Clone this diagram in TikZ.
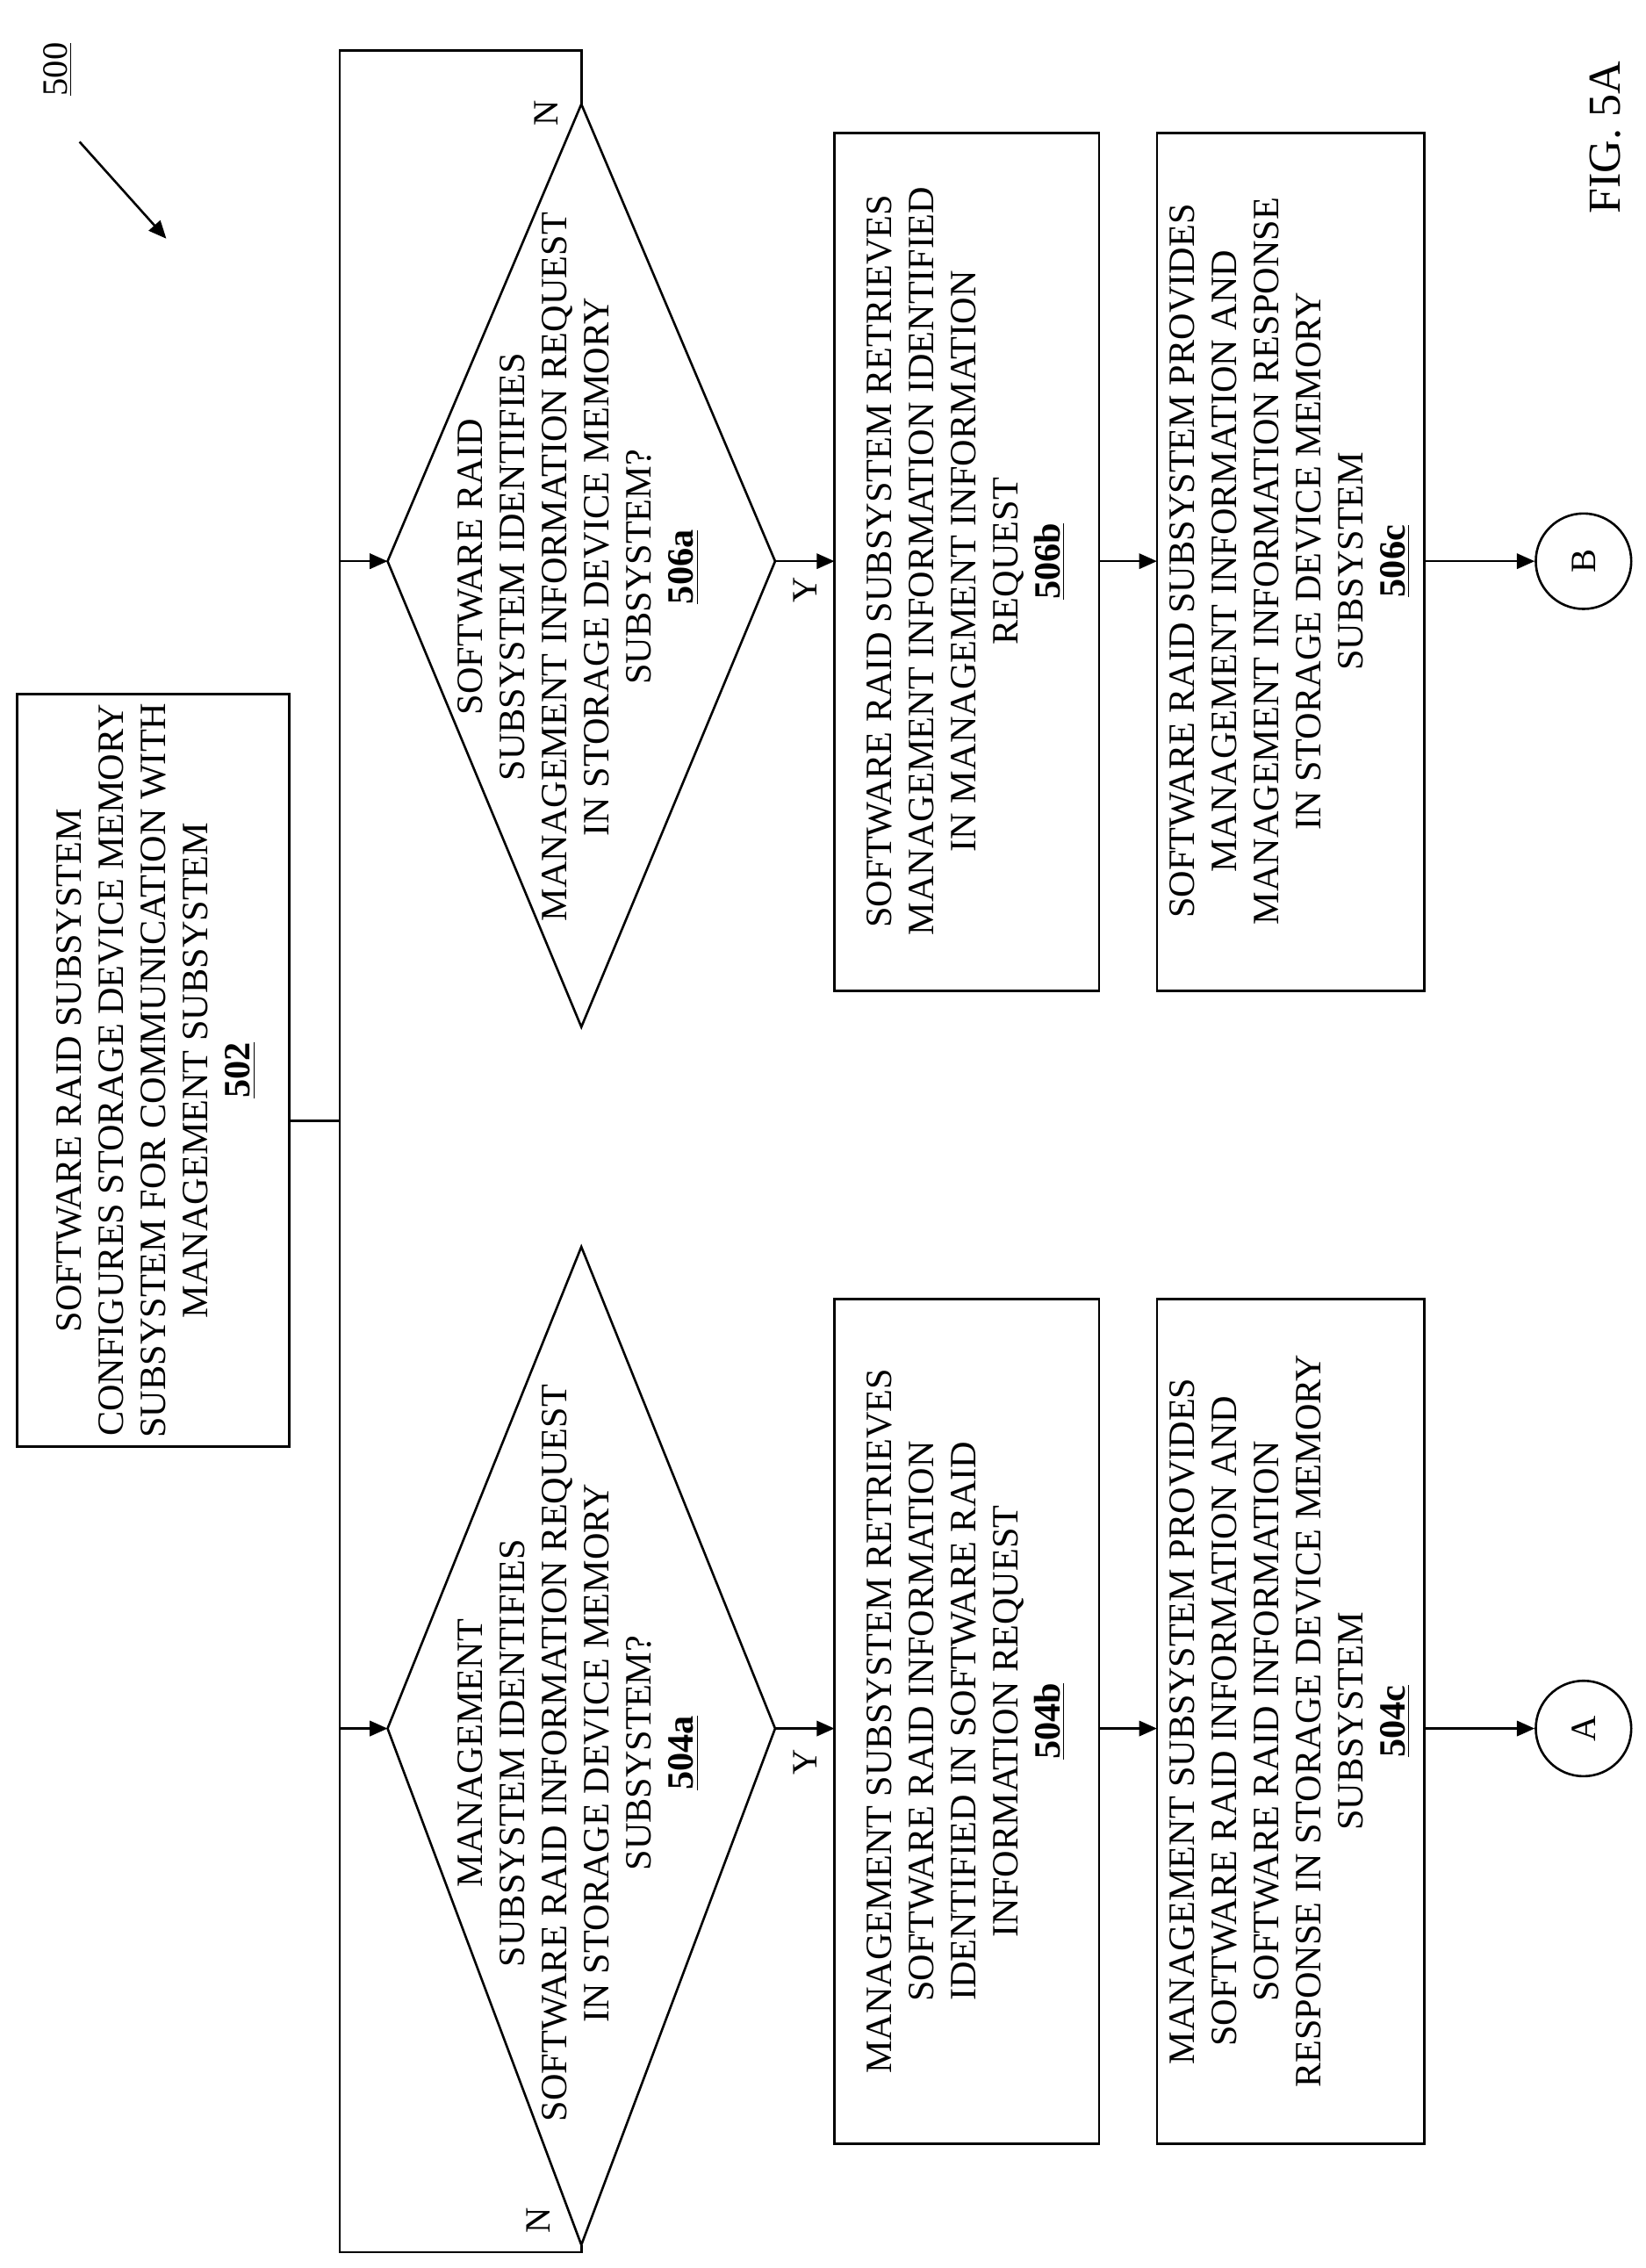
\documentclass[tikz,border=0pt]{standalone}
\usepackage{fontspec}
\setmainfont{Liberation Serif}
\usetikzlibrary{arrows.meta}
\begin{document}
\begin{tikzpicture}[x=0.02cm,y=-0.02cm,line width=0.9pt,
  txt/.style={rotate=90,align=center,font=\fontsize{14.6}{16.6}\selectfont,inner sep=0},
  lab/.style={rotate=90,font=\fontsize{14}{15}\selectfont,inner sep=1pt},
  arr/.style={-{Triangle[length=7pt,width=6pt]}},
  box/.style={draw}]
\useasboundingbox (0,0) rectangle (1138,1568);
% box 502
\draw[box] (12,480) rectangle (200,1000);
\node[txt] (t502) at (108,740) {SOFTWARE RAID SUBSYSTEM\\CONFIGURES STORAGE DEVICE MEMORY\\SUBSYSTEM FOR COMMUNICATION WITH\\MANAGEMENT SUBSYSTEM\\\underline{\textbf{502}}};
\coordinate (b502r) at (200,775);
\coordinate (bus) at (235,775);
\coordinate (bustop) at (235,35);
\coordinate (busbot) at (235,1557);
% diamonds
\coordinate (a-t) at (402,862); \coordinate (a-b) at (402,1552);
\coordinate (a-l) at (268,1195); \coordinate (a-r) at (536,1195);
\coordinate (c-t) at (402,72); \coordinate (c-b) at (402,710);
\coordinate (c-l) at (268,388); \coordinate (c-r) at (536,388);
\draw (a-t)--(a-r)--(a-b)--(a-l)--cycle;
\draw (c-t)--(c-r)--(c-b)--(c-l)--cycle;
\node[txt] (t504a) at (400,1212) {MANAGEMENT\\SUBSYSTEM IDENTIFIES\\SOFTWARE RAID INFORMATION REQUEST\\IN STORAGE DEVICE MEMORY\\SUBSYSTEM?\\\underline{\textbf{504a}}};
\node[txt] (t506a) at (400,392) {SOFTWARE RAID\\SUBSYSTEM IDENTIFIES\\MANAGEMENT INFORMATION REQUEST\\IN STORAGE DEVICE MEMORY\\SUBSYSTEM?\\\underline{\textbf{506a}}};
% boxes
\draw[box] (577,898) rectangle (760,1482);
\draw[box] (800,898) rectangle (985,1482);
\draw[box] (577,92) rectangle (760,685);
\draw[box] (800,92) rectangle (985,685);
\node[txt] (t504b) at (668,1190) {MANAGEMENT SUBSYSTEM RETRIEVES\\SOFTWARE RAID INFORMATION\\IDENTIFIED IN SOFTWARE RAID\\INFORMATION REQUEST\\\underline{\textbf{504b}}};
\node[txt] (t504c) at (892,1190) {MANAGEMENT SUBSYSTEM PROVIDES\\SOFTWARE RAID INFORMATION AND\\SOFTWARE RAID INFORMATION\\RESPONSE IN STORAGE DEVICE MEMORY\\SUBSYSTEM\\\underline{\textbf{504c}}};
\node[txt] (t506b) at (668,388) {SOFTWARE RAID SUBSYSTEM RETRIEVES\\MANAGEMENT INFORMATION IDENTIFIED\\IN MANAGEMENT INFORMATION\\REQUEST\\\underline{\textbf{506b}}};
\node[txt] (t506c) at (892,388) {SOFTWARE RAID SUBSYSTEM PROVIDES\\MANAGEMENT INFORMATION AND\\MANAGEMENT INFORMATION RESPONSE\\IN STORAGE DEVICE MEMORY\\SUBSYSTEM\\\underline{\textbf{506c}}};
\coordinate (bl1) at (577,1195); \coordinate (br1) at (760,1195);
\coordinate (cl1) at (800,1195); \coordinate (cr1) at (985,1195);
\coordinate (bl2) at (577,388); \coordinate (br2) at (760,388);
\coordinate (cl2) at (800,388); \coordinate (cr2) at (985,388);
\node[draw,circle,minimum size=66*0.02cm,inner sep=0] (A) at (1095,1195) {\rotatebox{90}{\fontsize{14}{15}\selectfont A}};
\node[draw,circle,minimum size=66*0.02cm,inner sep=0] (B) at (1095,388) {\rotatebox{90}{\fontsize{14}{15}\selectfont B}};
% connectors
\draw (b502r)--(bus);
\draw (c-t)--(402,35)--(bustop)--(busbot)--(402,1557)--(a-b);
\draw[arr] (235,1195)--(a-l);
\draw[arr] (235,388)--(c-l);
\draw[arr] (a-r)--(bl1);
\draw[arr] (c-r)--(bl2);
\draw[arr] (br1)--(cl1);
\draw[arr] (br2)--(cl2);
\draw[arr] (cr1)--(A);
\draw[arr] (cr2)--(B);
\node[lab] (ya) at (557,1218) {Y};
\node[lab] (yc) at (557,408) {Y};
\node[lab] (na) at (372,1535) {N};
\node[lab] (nc) at (378,78) {N};
% 500 and fig
\node[lab] (n500) at (40,48) {\underline{500}};
\coordinate (p1) at (55,98); \coordinate (p2) at (115,165);
\draw[arr] (p1)--(p2);
\node[rotate=90,font=\fontsize{18}{20}\selectfont,inner sep=0] (fig) at (1110,95) {FIG. 5A};
\end{tikzpicture}
\end{document}
